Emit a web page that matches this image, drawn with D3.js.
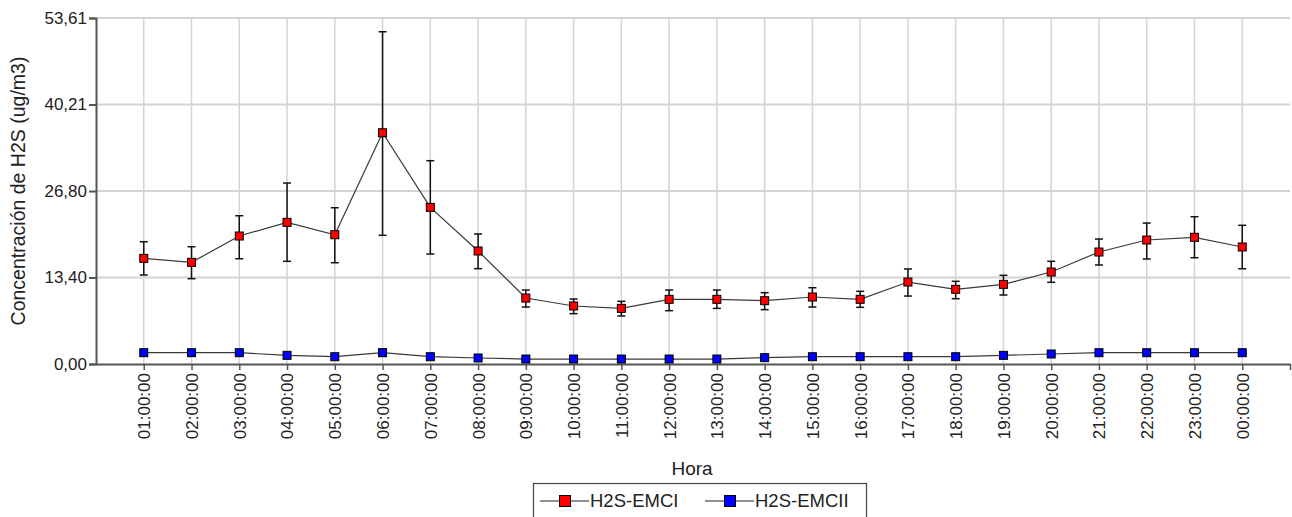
<!DOCTYPE html>
<meta charset="utf-8">
<style>
    body { margin: 0; background: #fff; }
    svg { display: block; font-family: "Liberation Sans", Arial, sans-serif; }
</style>
<script src="https://d3js.org/d3.v7.min.js"></script>
<body>
<div id="chart"></div>
<script>

    // data
    var horas = ["01:00:00","02:00:00","03:00:00","04:00:00","05:00:00","06:00:00",
        "07:00:00","08:00:00","09:00:00","10:00:00","11:00:00","12:00:00",
        "13:00:00","14:00:00","15:00:00","16:00:00","17:00:00","18:00:00",
        "19:00:00","20:00:00","21:00:00","22:00:00","23:00:00","00:00:00"];

    var emci = [16.37, 15.75, 19.83, 21.95, 20.03, 35.83, 24.27, 17.51, 10.22, 8.99, 8.62, 10.02,
        10.02, 9.81, 10.38, 10.02, 12.70, 11.57, 12.34, 14.25, 17.35, 19.21, 19.63, 18.13];
    var emciHi = [18.95, 18.17, 22.97, 28.04, 24.21, 51.48, 31.50, 20.14, 11.46, 10.07, 9.71, 11.46,
        11.46, 11.05, 11.82, 11.26, 14.72, 12.81, 13.74, 15.91, 19.36, 21.84, 22.82, 21.49];
    var emciLo = [13.79, 13.22, 16.31, 15.91, 15.69, 19.94, 17.04, 14.77, 8.83, 7.80, 7.44, 8.26,
        8.62, 8.42, 8.83, 8.78, 10.53, 10.12, 10.69, 12.66, 15.34, 16.27, 16.47, 14.76];

    var emcii = [1.75, 1.75, 1.75, 1.34, 1.13, 1.75, 1.13, 0.93, 0.77, 0.77, 0.77, 0.77,
        0.77, 0.98, 1.13, 1.13, 1.13, 1.13, 1.34, 1.55, 1.75, 1.75, 1.75, 1.75];
    var emciiErr = [0.2, 0.2, 0.2, 0.2, 0.2, 0.55, 0.2, 0.15, 0.1, 0.1, 0.1, 0.1,
        0.1, 0.1, 0.15, 0.15, 0.15, 0.15, 0.15, 0.15, 0.2, 0.2, 0.2, 0.2];

    var yTicks = [0, 13.40, 26.80, 40.21, 53.61];

    var width = 1292, height = 517;
    var plotLeft = 96, plotRight = 1290, plotTop = 18, plotBottom = 364;

    var svg = d3.select("#chart").append("svg")
        .attr("width", width)
        .attr("height", height);

    var x = d3.scaleLinear().domain([0, horas.length + 1]).range([plotLeft, plotRight]);
    var y = d3.scaleLinear().domain([0, 53.61]).range([plotBottom, plotTop]);

    // grid
    svg.append("g").selectAll("line.gy")
        .data(yTicks.slice(1))
        .enter().append("line")
        .attr("x1", plotLeft).attr("x2", plotRight)
        .attr("y1", function(d) { return y(d); })
        .attr("y2", function(d) { return y(d); })
        .style("stroke", "#d4d4d4").style("stroke-width", 2);

    svg.append("g").selectAll("line.gx")
        .data(horas)
        .enter().append("line")
        .attr("x1", function(d, i) { return x(i + 1); })
        .attr("x2", function(d, i) { return x(i + 1); })
        .attr("y1", y(53.61)).attr("y2", plotBottom)
        .style("stroke", "#d4d4d4").style("stroke-width", 1.5);

    // y axis
    var yAxis = d3.axisLeft(y)
        .tickValues(yTicks)
        .tickSize(7)
        .tickPadding(2)
        .tickFormat(function(d) { return d.toFixed(2).replace(".", ","); });

    var gy = svg.append("g")
        .attr("transform", "translate(" + plotLeft + ",0)")
        .call(yAxis);
    gy.select(".domain").style("stroke", "#555").style("stroke-width", 2);
    gy.selectAll(".tick line").style("stroke", "#555").style("stroke-width", 2);
    gy.selectAll("text").style("font-size", "17px").style("fill", "#222")
        .attr("font-family", "Liberation Sans, Arial, sans-serif");

    // x axis
    var xAxis = d3.axisBottom(x)
        .tickValues(d3.range(1, horas.length + 2))
        .tickSize(6)
        .tickSizeOuter(0)
        .tickFormat(function(d) { return horas[d - 1] || ""; });

    var gx = svg.append("g")
        .attr("transform", "translate(0," + plotBottom + ")")
        .call(xAxis);
    gx.select(".domain").style("stroke", "#555").style("stroke-width", 2);
    gx.selectAll(".tick line").style("stroke", "#555").style("stroke-width", 1.5);
    gx.selectAll("text")
        .attr("font-family", "Liberation Sans, Arial, sans-serif")
        .style("font-size", "17px").style("fill", "#222")
        .attr("transform", "rotate(-90)")
        .attr("x", -9).attr("y", 0).attr("dy", "0.35em")
        .style("text-anchor", "end");

    // titles
    svg.append("text")
        .attr("x", (plotLeft + plotRight) / 2 - 1).attr("y", 475)
        .attr("text-anchor", "middle")
        .style("font-size", "19px").style("fill", "#222")
        .text("Hora");

    svg.append("text")
        .attr("transform", "translate(25," + 191 + ") rotate(-90)")
        .attr("text-anchor", "middle")
        .style("font-size", "19.5px").style("fill", "#222")
        .text("Concentración de H2S (ug/m3)");

    // series
    var series = [
        {name: "H2S-EMCI", color: "#ff0000", vals: emci,
            hi: emciHi, lo: emciLo},
        {name: "H2S-EMCII", color: "#0000ff", vals: emcii,
            hi: emcii.map(function(v, i) { return v + emciiErr[i]; }),
            lo: emcii.map(function(v, i) { return v - emciiErr[i]; })}
    ];

    var line = d3.line()
        .x(function(d, i) { return x(i + 1); })
        .y(function(d) { return y(d); });

    series.forEach(function(s) {
        var g = svg.append("g");

        g.append("path")
            .datum(s.vals)
            .attr("d", line)
            .style("fill", "none")
            .style("stroke", "#3a3a3a")
            .style("stroke-width", 1.2);

        // error bars
        var eb = g.selectAll("g.err")
            .data(s.vals)
            .enter().append("g")
            .style("stroke", "#111").style("stroke-width", 1.5);
        eb.append("line")
            .attr("x1", function(d, i) { return x(i + 1); })
            .attr("x2", function(d, i) { return x(i + 1); })
            .attr("y1", function(d, i) { return y(s.hi[i]); })
            .attr("y2", function(d, i) { return y(s.lo[i]); });
        eb.append("line")
            .attr("x1", function(d, i) { return x(i + 1) - 4; })
            .attr("x2", function(d, i) { return x(i + 1) + 4; })
            .attr("y1", function(d, i) { return y(s.hi[i]); })
            .attr("y2", function(d, i) { return y(s.hi[i]); });
        eb.append("line")
            .attr("x1", function(d, i) { return x(i + 1) - 4; })
            .attr("x2", function(d, i) { return x(i + 1) + 4; })
            .attr("y1", function(d, i) { return y(s.lo[i]); })
            .attr("y2", function(d, i) { return y(s.lo[i]); });

        g.selectAll("rect")
            .data(s.vals)
            .enter().append("rect")
            .attr("x", function(d, i) { return x(i + 1) - 4; })
            .attr("y", function(d) { return y(d) - 4; })
            .attr("width", 8).attr("height", 8)
            .style("fill", s.color)
            .style("stroke", "#000").style("stroke-width", 1);
    });

    // legend
    var lg = svg.append("g");
    lg.append("rect")
        .attr("x", 533.5).attr("y", 483.5)
        .attr("width", 333).attr("height", 40)
        .style("fill", "#fff").style("stroke", "#444").style("stroke-width", 1.2);

    var items = lg.selectAll("g.item")
        .data(series)
        .enter().append("g")
        .attr("transform", function(d, i) { return "translate(" + (540 + i * 165) + ",501)"; });
    items.append("line")
        .attr("x1", 0).attr("x2", 49)
        .style("stroke", "#222").style("stroke-width", 1.2);
    items.append("rect")
        .attr("x", 19.5).attr("y", -5.5)
        .attr("width", 11).attr("height", 11)
        .style("fill", function(d) { return d.color; })
        .style("stroke", "#000").style("stroke-width", 1);
    items.append("text")
        .attr("x", 50).attr("y", 0).attr("dy", "0.35em")
        .style("font-size", "18.5px").style("fill", "#222")
        .text(function(d) { return d.name; });

</script>
</body>
